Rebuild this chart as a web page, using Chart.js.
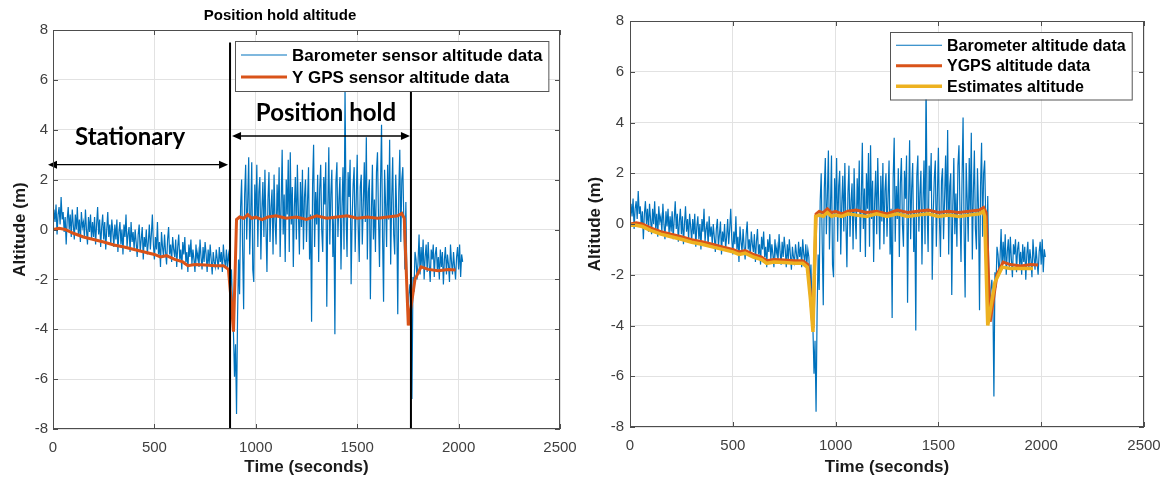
<!DOCTYPE html>
<html>
<head>
<meta charset="utf-8">
<script src="https://cdn.jsdelivr.net/npm/chart.js@4.4.1/dist/chart.umd.min.js"></script>
<style>
  html, body { margin: 0; padding: 0; background: #fff; }
  #left { position: absolute; left: 0; top: 0; width: 580px; height: 483px; }
  #right { position: absolute; left: 577px; top: 0; width: 590px; height: 483px; }
</style>
</head>
<body>
<div id="left"><canvas id="chartLeft"></canvas></div>
<div id="right"><canvas id="chartRight"></canvas></div>
<script>
// barometer altitude, one sample every 5 s from t = 0 (one row per 100 s)
const baroStep = 5;
const baroAlt = [
  0.1, 0.8, 0.3, 1.0, -0.2, 0.6, 0.9, 0.2, 1.3, 0.4, 0.7, -0.1, 0.5, -0.6, 0.4, 0.9, 0.0, 0.6, -0.3, 0.8,
  0.2, -0.4, 0.6, 0.0, 0.9, -0.2, 0.4, -0.5, 0.7, 0.1, 0.3, -0.3, 0.8, 0.0, -0.6, 0.5, -0.1, 0.6, -0.4, 0.3,
  -0.3, 0.5, -0.6, 0.2, 0.9, -0.2, 0.4, -0.7, 0.1, 0.6, -0.4, 0.3, -0.8, 0.0, 0.7, -0.3, 0.2, -0.6, 0.4, -0.1,
  -0.7, 0.2, -0.4, 0.4, -0.9, -0.1, 0.3, -0.6, 0.0, -1.0, 0.2, -0.3, 0.6, -0.7, -0.2, 0.1, -0.9, 0.3, -0.5, -0.1,
  -0.8, 0.0, -0.5, -1.1, -0.2, 0.2, -0.9, -0.4, 0.1, -1.2, -0.3, -0.7, 0.0, -1.0, -0.5, 0.2, -0.8, -0.2, 0.6, -0.6,
  -1.2, -0.3, -0.8, 0.3, -1.0, -0.5, -1.5, -0.1, -0.7, -1.1, -0.2, -0.9, -1.4, -0.4, 0.1, -1.0, -0.6, -1.3, -0.3, -0.8,
  -1.1, -0.4, -1.5, -0.7, -0.2, -1.2, -0.8, -1.6, -0.5, -1.0, -0.3, -1.3, -0.9, -1.7, -0.6, -1.1, -0.4, -1.4, -0.8, -1.2,
  -1.7, -0.6, -1.2, -0.9, -1.5, -0.4, -1.1, -1.6, -0.7, -1.3, -0.5, -1.0, -1.7, -0.8, -1.4, -0.6, -1.2, -1.8, -0.9, -1.3,
  -1.5, -0.8, -1.2, -1.6, -0.7, -1.3, -0.9, -1.7, -0.6, -1.2, -1.5, -0.8, -1.6, -1.0, -1.3, -2.4, -1.6, -3.1, -4.2, -5.9,
  -4.6, -7.4, -3.5, -1.2, -2.6, 0.9, 2.0, -0.8, -3.2, 1.4, 2.6, -0.4, 1.1, 2.9, -1.0, 0.6, 2.7, -1.6, -2.1, 1.8,
  0.4, 2.6, -0.7, 1.5, 2.1, -1.2, 0.8, 1.9, -0.3, 2.4, 0.1, -1.7, 1.2, 2.3, -0.5, 0.9, 1.6, -1.0, 2.2, 0.3,
  -0.6, 1.8, 0.5, 2.5, -1.1, 1.0, 3.2, -0.2, 1.4, -1.3, 2.0, 0.6, 2.8, -0.9, 3.1, 0.2, 1.7, -1.5, 0.9, 2.1,
  -0.4, 2.6, 0.7, -1.0, 1.9, 0.1, 2.4, -0.8, 1.3, 2.0, -0.5, 1.1, 2.5, -1.2, 0.6, -3.7, 1.8, 3.4, -0.7, 1.5,
  0.2, 2.2, -1.3, 1.6, 2.6, 0.0, -0.9, 2.1, 1.0, 2.7, -3.1, 0.8, 3.3, -0.6, 1.4, 2.4, -1.1, 0.5, -4.2, 1.9,
  2.7, -0.3, 1.2, 2.1, -1.6, 0.9, 2.5, -0.8, 5.7, 0.6, -1.1, 2.3, 1.3, 2.8, -2.2, 0.4, 1.8, 2.5, -0.9, 1.1,
  3.0, 0.2, -1.3, 1.7, 2.2, -0.6, 1.0, 2.7, 0.3, 3.7, -1.2, 1.5, 2.0, -2.8, 0.7, 2.6, -0.4, 1.2, -0.9, 2.3,
  3.1, 0.5, -1.5, 1.8, 4.2, -0.3, -2.9, 2.4, 1.0, -0.7, 2.6, 0.4, 3.6, -1.4, 1.2, 2.9, -0.2, -1.0, 2.2, 0.6,
  -3.4, 1.5, 3.2, -0.5, 2.0, 2.5, 0.3, -1.6, 1.1, -2.0, -3.8, -2.6, -2.2, -3.0, -6.8, -1.9, -2.5, -0.9, -1.2, -2.0,
  -1.3, -0.2, -1.8, -0.7, -1.5, -0.4, -2.0, -1.1, -0.6, -1.7, -0.5, -1.4, -2.1, -0.8, -1.2, -0.6, -1.9, -1.0, -0.7, -1.6,
  -1.1, -2.0, -0.8, -1.5, -0.9, -2.2, -1.2, -0.7, -1.8, -1.0, -1.4, -2.1, -0.6, -1.3, -1.8, -0.9, -1.5, -2.0, -1.1, -0.7,
  -1.6, -0.6, -1.9, -1.0, -1.3
];

const gpsTime = [0, 30, 60, 100, 150, 200, 250, 300, 350, 400,
  450, 500, 530, 560, 600, 640, 665, 700, 750, 800,
  840, 865, 878, 890, 905, 920, 940, 960, 980, 1000,
  1030, 1060, 1100, 1150, 1200, 1250, 1300, 1350, 1400, 1450,
  1500, 1550, 1600, 1650, 1700, 1720, 1732, 1752, 1785, 1815,
  1850, 1900, 1950, 1985];
const gpsAlt = [0.0, 0.05, 0.0, -0.15, -0.3, -0.4, -0.5, -0.62, -0.7, -0.8,
  -0.9, -1.0, -1.1, -1.05, -1.2, -1.3, -1.45, -1.4, -1.42, -1.45,
  -1.45, -1.6, -2.8, -4.1, 0.4, 0.5, 0.45, 0.6, 0.45, 0.5,
  0.4, 0.5, 0.55, 0.45, 0.5, 0.4, 0.55, 0.45, 0.5, 0.55,
  0.45, 0.5, 0.45, 0.5, 0.55, 0.65, 0.45, -3.85, -2.0, -1.5,
  -1.6, -1.65, -1.6, -1.62];

const estTime = [0, 30, 60, 100, 150, 200, 250, 300, 350, 400,
  450, 500, 530, 560, 600, 640, 665, 700, 750, 800,
  840, 862, 878, 890, 903, 920, 940, 960, 980, 1000,
  1030, 1060, 1100, 1150, 1200, 1250, 1300, 1350, 1400, 1450,
  1500, 1550, 1600, 1650, 1700, 1718, 1725, 1740, 1775, 1810,
  1850, 1900, 1960];
const estAlt = [-0.05, -0.05, -0.1, -0.25, -0.4, -0.5, -0.6, -0.72, -0.8, -0.9,
  -1.0, -1.1, -1.2, -1.15, -1.3, -1.4, -1.55, -1.5, -1.52, -1.55,
  -1.55, -1.7, -3.0, -4.25, 0.3, 0.35, 0.3, 0.45, 0.3, 0.35,
  0.3, 0.4, 0.35, 0.3, 0.4, 0.3, 0.4, 0.3, 0.35, 0.4,
  0.3, 0.35, 0.3, 0.35, 0.4, 0.5, 0.3, -4.0, -2.3, -1.7,
  -1.75, -1.75, -1.75];

const xTicks = [0, 500, 1000, 1500, 2000, 2500];
const yTicks = [-8, -6, -4, -2, 0, 2, 4, 6, 8];

// phase boundaries (s) and names for the left panel
const phaseBounds = [0, 873, 1765];
const phaseNames = ['Stationary', 'Position hold'];

const SANS = '"Liberation Sans", Arial, sans-serif';

function pts(xs, ys) {
  return ys.map((v, i) => ({ x: xs[i], y: v }));
}
const baroPts = baroAlt.map((v, i) => ({ x: i * baroStep, y: v }));

// box + inward tick marks like a matlab axes
const frame = {
  id: 'frame',
  afterDatasetsDraw(chart) {
    const { ctx, chartArea: a, scales: { x, y } } = chart;
    ctx.save();
    ctx.strokeStyle = '#4d4d4d';
    ctx.lineWidth = 1;
    ctx.strokeRect(a.left + 0.5, a.top + 0.5, a.right - a.left - 1, a.bottom - a.top - 1);
    ctx.beginPath();
    x.ticks.forEach(t => {
      const px = Math.round(x.getPixelForValue(t.value)) + 0.5;
      ctx.moveTo(px, a.bottom); ctx.lineTo(px, a.bottom - 5);
      ctx.moveTo(px, a.top); ctx.lineTo(px, a.top + 5);
    });
    y.ticks.forEach(t => {
      const py = Math.round(y.getPixelForValue(t.value)) + 0.5;
      ctx.moveTo(a.left, py); ctx.lineTo(a.left + 5, py);
      ctx.moveTo(a.right, py); ctx.lineTo(a.right - 5, py);
    });
    ctx.stroke();
    ctx.restore();
  }
};

// legend box inside the top-right corner of the plot
function boxLegend(fontSize, rowH) {
  return {
    id: 'boxLegend',
    afterDraw(chart) {
      const { ctx, chartArea: a } = chart;
      const items = chart.data.datasets;
      ctx.save();
      ctx.font = 'bold ' + fontSize + 'px ' + SANS;
      const textW = Math.max(...items.map(d => ctx.measureText(d.label).width));
      const w = 6 + 46 + 5 + textW + 6;
      const h = rowH * items.length + 6;
      const left = Math.round(a.right - 12 - w), top = Math.round(a.top + 11);
      ctx.fillStyle = '#fff';
      ctx.fillRect(left, top, w, h);
      ctx.strokeStyle = '#555';
      ctx.lineWidth = 1;
      ctx.strokeRect(left + 0.5, top + 0.5, w, h);
      ctx.textBaseline = 'middle';
      items.forEach((d, i) => {
        const cy = top + 3 + rowH * (i + 0.5);
        ctx.strokeStyle = d.borderColor;
        ctx.lineWidth = d.borderWidth;
        ctx.beginPath();
        ctx.moveTo(left + 6, cy); ctx.lineTo(left + 52, cy);
        ctx.stroke();
        ctx.fillStyle = '#000';
        ctx.fillText(d.label, left + 57, cy + 1);
      });
      ctx.restore();
    }
  };
}

function arrow(ctx, x1, x2, yy) {
  const head = 9, half = 4;
  ctx.beginPath();
  ctx.moveTo(x1 + head, yy); ctx.lineTo(x2 - head, yy);
  ctx.stroke();
  ctx.beginPath();
  ctx.moveTo(x1, yy); ctx.lineTo(x1 + head, yy - half); ctx.lineTo(x1 + head, yy + half); ctx.closePath();
  ctx.moveTo(x2, yy); ctx.lineTo(x2 - head, yy - half); ctx.lineTo(x2 - head, yy + half); ctx.closePath();
  ctx.fill();
}

const phases = {
  id: 'phases',
  afterDatasetsDraw(chart) {
    const { ctx, scales: { x, y } } = chart;
    const xs = phaseBounds.map(t => x.getPixelForValue(t));
    ctx.save();
    ctx.strokeStyle = '#000';
    ctx.fillStyle = '#000';
    ctx.lineWidth = 2;
    ctx.beginPath();
    ctx.moveTo(xs[1], y.getPixelForValue(7.5)); ctx.lineTo(xs[1], y.getPixelForValue(-8));
    ctx.moveTo(xs[2], y.getPixelForValue(5.6)); ctx.lineTo(xs[2], y.getPixelForValue(-8));
    ctx.stroke();
    ctx.lineWidth = 1.3;
    arrow(ctx, xs[0] - 5, xs[1] - 2, y.getPixelForValue(2.6));
    arrow(ctx, xs[1] + 2, xs[2] - 1, y.getPixelForValue(3.75));
    ctx.textAlign = 'center';
    ctx.textBaseline = 'middle';
    ctx.font = 'bold 24px Lato, "Open Sans", sans-serif';
    ctx.fillText(phaseNames[0], x.getPixelForValue(380), y.getPixelForValue(3.7));
    ctx.fillText(phaseNames[1], x.getPixelForValue(1346), y.getPixelForValue(4.67));
    ctx.restore();
  }
};

function scaleOpts(xAxisH, yAxisW, yTitlePad, yTickPad) {
  const tickFont = { family: SANS, size: 15 };
  const titleFont = { family: SANS, size: 17, weight: 'bold' };
  return {
    x: {
      type: 'linear',
      min: xTicks[0],
      max: xTicks[xTicks.length - 1],
      afterBuildTicks: s => { s.ticks = xTicks.map(v => ({ value: v })); },
      afterFit: s => { s.height = xAxisH; s.paddingLeft = 0; s.paddingRight = 0; },
      grid: { color: '#e2e2e2', drawTicks: false },
      border: { display: false },
      ticks: { font: tickFont, color: '#404040', padding: 10, maxRotation: 0, callback: v => String(v) },
      title: { display: true, text: 'Time (seconds)', font: titleFont, color: '#1a1a1a', padding: { top: 0, bottom: 5 } }
    },
    y: {
      min: yTicks[0],
      max: yTicks[yTicks.length - 1],
      afterBuildTicks: s => { s.ticks = yTicks.map(v => ({ value: v })); },
      afterFit: s => { s.width = yAxisW; s.paddingTop = 0; s.paddingBottom = 0; },
      grid: { color: '#e2e2e2', drawTicks: false },
      border: { display: false },
      ticks: { font: tickFont, color: '#404040', padding: yTickPad, callback: v => String(v) },
      title: { display: true, text: 'Altitude (m)', font: titleFont, color: '#1a1a1a', padding: { top: yTitlePad, bottom: 0 } }
    }
  };
}

const baroLine = label => ({
  label: label, data: baroPts, borderColor: '#0072BD', borderWidth: 1.2,
  pointRadius: 0, tension: 0, order: 3
});
const gpsLine = label => ({
  label: label, data: pts(gpsTime, gpsAlt), borderColor: '#D95319', borderWidth: 3,
  pointRadius: 0, tension: 0, order: 2
});

new Chart(document.getElementById('chartLeft'), {
  type: 'line',
  data: { datasets: [baroLine('Barometer sensor altitude data'), gpsLine('Y GPS sensor altitude data')] },
  options: {
    responsive: true,
    maintainAspectRatio: false,
    animation: false,
    layout: { padding: { left: 0, right: 20, top: 0, bottom: 0 } },
    scales: scaleOpts(54, 53, 10, 5),
    plugins: {
      legend: { display: false },
      tooltip: { enabled: false },
      title: {
        display: true,
        text: 'Position hold altitude',
        color: '#000',
        font: { family: SANS, size: 15, weight: 'bold' },
        padding: { top: 7, bottom: 5 }
      }
    }
  },
  plugins: [phases, frame, boxLegend(17, 22)]
});

new Chart(document.getElementById('chartRight'), {
  type: 'line',
  data: {
    datasets: [
      baroLine('Barometer altitude data'),
      gpsLine('YGPS altitude data'),
      {
        label: 'Estimates altitude', data: pts(estTime, estAlt), borderColor: '#EDB120', borderWidth: 3.5,
        pointRadius: 0, tension: 0, order: 1
      }
    ]
  },
  options: {
    responsive: true,
    maintainAspectRatio: false,
    animation: false,
    layout: { padding: { left: 0, right: 23, top: 21, bottom: 0 } },
    scales: scaleOpts(56, 53, 8, 6),
    plugins: {
      legend: { display: false },
      tooltip: { enabled: false }
    }
  },
  plugins: [frame, boxLegend(16, 20.5)]
});
</script>
</body>
</html>
